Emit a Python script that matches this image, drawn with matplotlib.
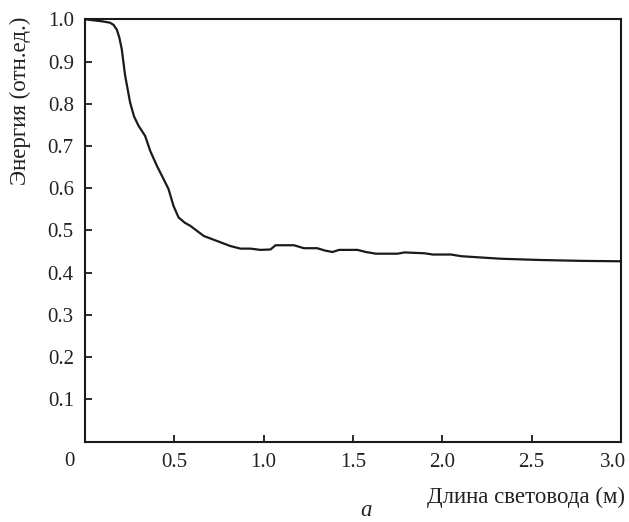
import matplotlib.pyplot as plt
from matplotlib.transforms import ScaledTranslation

# energy vs fibre length
length_m = [0.0, 0.06, 0.10, 0.14, 0.16, 0.178, 0.192, 0.206, 0.225, 0.253, 0.275,
            0.30, 0.337, 0.365, 0.403, 0.44, 0.468, 0.496, 0.524, 0.56, 0.59,
            0.665, 0.74, 0.815, 0.871, 0.927, 0.983, 1.039, 1.067, 1.17, 1.226,
            1.30, 1.348, 1.386, 1.423, 1.526, 1.573, 1.629, 1.75, 1.789, 1.90,
            1.948, 2.05, 2.107, 2.33, 2.556, 2.78, 3.0]
energy = [1.0, 0.997, 0.995, 0.992, 0.987, 0.976, 0.958, 0.93, 0.867, 0.803, 0.77,
          0.748, 0.724, 0.689, 0.653, 0.622, 0.598, 0.558, 0.531, 0.518, 0.511,
          0.487, 0.475, 0.463, 0.457, 0.457, 0.454, 0.455, 0.465, 0.465, 0.458,
          0.458, 0.452, 0.449, 0.454, 0.454, 0.449, 0.445, 0.445, 0.448, 0.446,
          0.443, 0.443, 0.439, 0.433, 0.430, 0.428, 0.427]

x_ticks = [0.5, 1.0, 1.5, 2.0, 2.5, 3.0]
y_ticks = [0.1, 0.2, 0.3, 0.4, 0.5, 0.6, 0.7, 0.8, 0.9, 1.0]

plt.rcParams['font.family'] = ['Liberation Serif', 'DejaVu Serif']
plt.rcParams['font.size'] = 15

fig = plt.figure(figsize=(6.29, 5.22), dpi=100)
ax = fig.add_axes([0.135, 0.154, 0.852, 0.809])

ax.plot(length_m, energy, color='#1a1a1a', linewidth=1.6)

ax.set_xlim(0, 3.0)
ax.set_ylim(0, 1.0)
ax.set_xticks(x_ticks)
ax.set_xticklabels([f'{v:.1f}' for v in x_ticks])
ax.set_yticks(y_ticks)
ax.set_yticklabels([f'{v:.1f}' for v in y_ticks])
ax.tick_params(direction='in', length=5, width=1.3, color='#1a1a1a',
               labelcolor='#222222')
ax.tick_params(axis='x', pad=8)
ax.tick_params(axis='y', pad=8)
for s in ax.spines.values():
    s.set_linewidth(1.5)
    s.set_color('#1a1a1a')

# last x label sits a little left of its tick so it stays inside the figure
last = ax.get_xticklabels()[-1]
last.set_transform(last.get_transform() + ScaledTranslation(-8 / 100, 0, fig.dpi_scale_trans))

ax.annotate('0', xy=(0, 0), xytext=(-11, -14.5), textcoords='offset points',
            ha='center', va='center', color='#222222')

fig.text(625 / 629, 1 - 497 / 522, 'Длина световода (м)', ha='right', va='center',
         color='#222222', fontsize=16.5)
fig.text(20 / 629, 1 - 17 / 522, 'Энергия (отн.ед.)', rotation=90, ha='center',
         va='top', color='#222222', fontsize=16.5)
fig.text(366 / 629, 1 / 522, 'а', style='italic', ha='center', va='bottom',
         color='#222222', fontsize=16.5)

fig.savefig('out.png', dpi=100)
